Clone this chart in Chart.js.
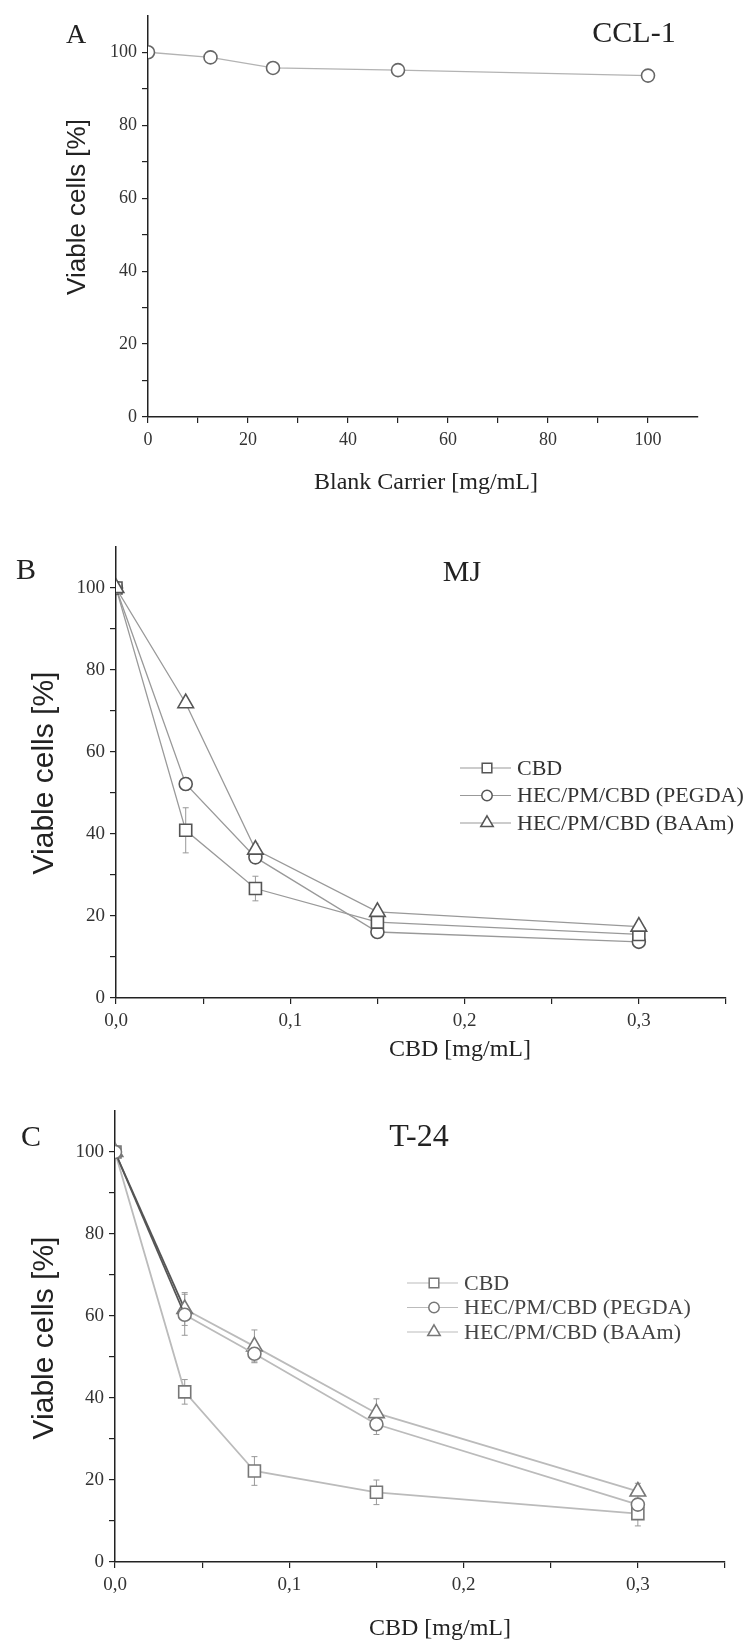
<!DOCTYPE html>
<html>
<head>
<meta charset="utf-8">
<script src="https://cdn.jsdelivr.net/npm/chart.js@4.4.1/dist/chart.umd.min.js"></script>
<style>
  html, body { margin: 0; padding: 0; background: #fff; }
  body { width: 746px; height: 1644px; position: relative; overflow: hidden; }
  .panel { position: absolute; left: 0; width: 746px; }
</style>
</head>
<body>
<div class="panel" style="top:0"><canvas id="chartA" width="746" height="510"></canvas></div>
<div class="panel" style="top:520px"><canvas id="chartB" width="746" height="560"></canvas></div>
<div class="panel" style="top:1080px"><canvas id="chartC" width="746" height="564"></canvas></div>
<script>
// panel A - blank carrier on CCL-1
const carrierConc = [0, 12.5, 25, 50, 100];
const carrierViable = [100, 98.6, 95.7, 95.1, 93.6];
const carrierErr = [0, 0.8, 0.8, 1, 1.2];

// panels B and C - CBD concentrations
const cbdConc = [0, 0.04, 0.08, 0.15, 0.3];
const seriesNames = ['CBD', 'HEC/PM/CBD (PEGDA)', 'HEC/PM/CBD (BAAm)'];

const mjCBD = [100, 40.9, 26.7, 18.5, 15.5];
const mjPEGDA = [100, 52.2, 34.3, 16.1, 13.7];
const mjBAAm = [100, 71.9, 36.2, 21.0, 17.4];
const mjCBDErr = [0, 5.5, 3, 1.5, 1];
const mjPEGDAErr = [0, 1.5, 1.5, 1.2, 1];
const mjBAAmErr = [0, 1, 1.5, 1, 1];

const t24CBD = [100, 41.5, 22.2, 17.0, 11.8];
const t24PEGDA = [100, 60.3, 50.8, 33.6, 14.0];
const t24BAAm = [100, 61.7, 52.6, 36.3, 17.2];
const t24CBDErr = [0, 3, 3.5, 3, 3];
const t24PEGDAErr = [0, 5, 2, 2.5, 1.5];
const t24BAAmErr = [0, 4, 4, 3.5, 2];

const yTicks = [0, 20, 40, 60, 80, 100];

const SERIF = '"Liberation Serif", "Times New Roman", serif';
const SANS = '"Liberation Sans", Arial, sans-serif';

function pts(xs, ys) {
  return xs.map((x, i) => ({ x: x, y: ys[i] }));
}

// error bars, drawn under the markers
const errorBars = {
  id: 'errorBars',
  beforeDatasetsDraw(chart) {
    const ctx = chart.ctx;
    const xs = chart.scales.x, ys = chart.scales.y;
    chart.data.datasets.forEach(ds => {
      if (!ds.errors) return;
      ctx.save();
      ctx.strokeStyle = ds.errorColor || '#999';
      ctx.lineWidth = 1;
      ds.data.forEach((p, i) => {
        const e = ds.errors[i];
        if (!e) return;
        const px = xs.getPixelForValue(p.x);
        const top = ys.getPixelForValue(p.y + e);
        const bot = ys.getPixelForValue(p.y - e);
        ctx.beginPath();
        ctx.moveTo(px, top); ctx.lineTo(px, bot);
        ctx.moveTo(px - 3, top); ctx.lineTo(px + 3, top);
        ctx.moveTo(px - 3, bot); ctx.lineTo(px + 3, bot);
        ctx.stroke();
      });
      ctx.restore();
    });
  }
};

function marker(ctx, style, x, y, r) {
  ctx.beginPath();
  if (style === 'rect') {
    const s = r / Math.SQRT2;
    ctx.rect(x - s, y - s, 2 * s, 2 * s);
  } else if (style === 'triangle') {
    ctx.moveTo(x, y - r);
    ctx.lineTo(x + r * 0.866, y + r * 0.5);
    ctx.lineTo(x - r * 0.866, y + r * 0.5);
    ctx.closePath();
  } else {
    ctx.arc(x, y, r, 0, Math.PI * 2);
  }
  ctx.fill();
  ctx.stroke();
}

// legend inside the plot: short line with the marker on it, then the name
function makeLegend(opt) {
  return {
    id: 'insideLegend',
    afterDraw(chart) {
      const ctx = chart.ctx;
      chart.data.datasets.forEach((ds, i) => {
        const y = opt.y + i * opt.gap;
        ctx.save();
        ctx.strokeStyle = opt.lineColor;
        ctx.lineWidth = 1.2;
        ctx.beginPath();
        ctx.moveTo(opt.x - 27, y); ctx.lineTo(opt.x + 24, y);
        ctx.stroke();
        ctx.fillStyle = '#fff';
        ctx.strokeStyle = ds.pointBorderColor;
        ctx.lineWidth = 1.5;
        marker(ctx, ds.pointStyle, opt.x, y, ds.pointRadius * 0.8);
        ctx.fillStyle = opt.color;
        ctx.font = opt.font;
        ctx.textAlign = 'left';
        ctx.textBaseline = 'middle';
        ctx.fillText(ds.label, opt.x + 30, y + 1);
        ctx.restore();
      });
    }
  };
}

function makeText(items) {
  return {
    id: 'panelText',
    afterDraw(chart) {
      const ctx = chart.ctx;
      items.forEach(t => {
        ctx.save();
        ctx.font = t.font;
        ctx.fillStyle = t.color || '#222';
        ctx.textAlign = 'center';
        ctx.textBaseline = 'middle';
        ctx.translate(t.x, t.y);
        if (t.rotate) ctx.rotate(t.rotate);
        ctx.fillText(t.text, 0, 0);
        ctx.restore();
      });
    }
  };
}

function yScale(width, fontSize) {
  return {
    type: 'linear', min: 0, max: 110,
    afterFit: s => { s.width = width; },
    border: { color: '#222', width: 1.5 },
    grid: {
      drawOnChartArea: false, drawTicks: true, tickLength: 6, lineWidth: 1.2,
      color: c => (c.tick && c.tick.value > 100) ? 'rgba(0,0,0,0)' : '#222'
    },
    ticks: {
      stepSize: 10, padding: 5, color: '#333',
      font: { family: SERIF, size: fontSize },
      callback: v => yTicks.includes(v) ? String(v) : ''
    }
  };
}

function xScaleCarrier() {
  return {
    type: 'linear', min: 0, max: 110,
    afterFit: s => { s.height = 93; },
    border: { color: '#222', width: 1.5 },
    grid: {
      drawOnChartArea: false, drawTicks: true, tickLength: 6, lineWidth: 1.2,
      color: c => (c.tick && c.tick.value > 100) ? 'rgba(0,0,0,0)' : '#222'
    },
    ticks: {
      stepSize: 10, padding: 6, color: '#333', maxRotation: 0,
      font: { family: SERIF, size: 18 },
      callback: v => (v % 20 === 0 && v <= 100) ? String(v) : ''
    }
  };
}

function xScaleCBD(height) {
  return {
    type: 'linear', min: 0, max: 0.35,
    afterFit: s => { s.height = height; },
    border: { color: '#222', width: 1.5 },
    grid: { drawOnChartArea: false, drawTicks: true, tickLength: 6, lineWidth: 1.2, color: '#222' },
    ticks: {
      stepSize: 0.05, padding: 6, color: '#333', maxRotation: 0, autoSkip: false,
      font: { family: SERIF, size: 19 },
      callback: v => {
        const k = Math.round(v * 100);
        return k % 10 === 0 ? (k / 100).toFixed(1).replace('.', ',') : '';
      }
    }
  };
}

function series(label, xs, ys, errs, style, radius, lineColor, pointColor, extra) {
  return Object.assign({
    label: label,
    data: pts(xs, ys),
    errors: errs,
    errorColor: '#999',
    borderColor: lineColor,
    borderWidth: 1.3,
    pointStyle: style,
    pointRadius: radius,
    pointBorderWidth: 1.6,
    pointBorderColor: pointColor,
    pointBackgroundColor: '#fff',
    tension: 0,
    // markers sitting on the y axis are cut by it, as in the original plot
    clip: { left: 0, top: false, right: false, bottom: false }
  }, extra || {});
}

const baseOptions = (padding, yS, xS) => ({
  responsive: false,
  animation: false,
  layout: { padding: padding },
  plugins: { legend: { display: false }, tooltip: { enabled: false } },
  scales: { x: xS, y: yS }
});

// panel A
new Chart(document.getElementById('chartA'), {
  type: 'line',
  data: {
    datasets: [series('Blank Carrier', carrierConc, carrierViable, carrierErr, 'circle', 6.5, '#b3b3b3', '#666')]
  },
  options: baseOptions({ top: 11, right: 48, left: 0, bottom: 0 }, yScale(148, 18), xScaleCarrier()),
  plugins: [errorBars, makeText([
    { text: 'A', x: 76, y: 36, font: '28px ' + SERIF },
    { text: 'CCL-1', x: 634, y: 34, font: '30px ' + SERIF },
    { text: 'Blank Carrier [mg/mL]', x: 426, y: 483, font: '24px ' + SERIF },
    { text: 'Viable cells [%]', x: 78, y: 207, font: '26px ' + SANS, rotate: -Math.PI / 2 }
  ])]
});

// panel B - MJ (triangles drawn on top)
new Chart(document.getElementById('chartB'), {
  type: 'line',
  data: {
    datasets: [
      series(seriesNames[0], cbdConc, mjCBD, mjCBDErr, 'rect', 8.5, '#999', '#555'),
      series(seriesNames[1], cbdConc, mjPEGDA, mjPEGDAErr, 'circle', 6.5, '#999', '#555'),
      series(seriesNames[2], cbdConc, mjBAAm, mjBAAmErr, 'triangle', 9, '#999', '#555', { order: -1 })
    ]
  },
  options: baseOptions({ top: 27, right: 20, left: 0, bottom: 0 }, yScale(116, 19), xScaleCBD(82)),
  plugins: [errorBars,
    makeLegend({ x: 487, y: 768 - 520, gap: 27.5, lineColor: '#999', color: '#333', font: '22px ' + SERIF }),
    makeText([
      { text: 'B', x: 26, y: 51, font: '30px ' + SERIF },
      { text: 'MJ', x: 462, y: 53, font: '30px ' + SERIF },
      { text: 'CBD [mg/mL]', x: 460, y: 530, font: '24px ' + SERIF },
      { text: 'Viable cells [%]', x: 45, y: 253, font: '30px ' + SANS, rotate: -Math.PI / 2 }
    ])]
});

// panel C - T-24, first segment of the hydrogel series is darker
const firstDark = { segment: { borderColor: c => c.p0DataIndex === 0 ? '#555' : undefined } };
new Chart(document.getElementById('chartC'), {
  type: 'line',
  data: {
    datasets: [
      series(seriesNames[0], cbdConc, t24CBD, t24CBDErr, 'rect', 8.5, '#bbb', '#777', { borderWidth: 1.8 }),
      series(seriesNames[1], cbdConc, t24PEGDA, t24PEGDAErr, 'circle', 6.5, '#bbb', '#777', Object.assign({ borderWidth: 1.8, order: -1 }, firstDark)),
      series(seriesNames[2], cbdConc, t24BAAm, t24BAAmErr, 'triangle', 9, '#bbb', '#777', Object.assign({ borderWidth: 1.8 }, firstDark))
    ]
  },
  options: baseOptions({ top: 31, right: 21, left: 0, bottom: 0 }, yScale(115, 19), xScaleCBD(82)),
  plugins: [errorBars,
    makeLegend({ x: 434, y: 1283 - 1080, gap: 24.5, lineColor: '#bbb', color: '#444', font: '22px ' + SERIF }),
    makeText([
      { text: 'C', x: 31, y: 58, font: '30px ' + SERIF },
      { text: 'T-24', x: 419, y: 58, font: '32px ' + SERIF },
      { text: 'CBD [mg/mL]', x: 440, y: 549, font: '24px ' + SERIF },
      { text: 'Viable cells [%]', x: 45, y: 258, font: '30px ' + SANS, rotate: -Math.PI / 2 }
    ])]
});
</script>
</body>
</html>
